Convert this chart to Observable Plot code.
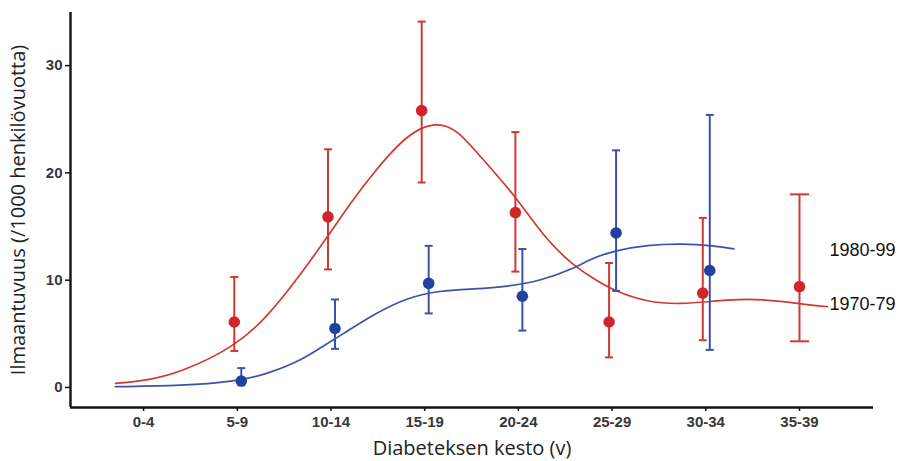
<!DOCTYPE html>
<html>
<head>
<meta charset="utf-8">
<script src="https://cdn.jsdelivr.net/npm/d3@7"></script>
<script src="https://cdn.jsdelivr.net/npm/@observablehq/plot@0.6"></script>
<style>
  html, body { margin: 0; padding: 0; background: #fff; }
  #chart svg { display: block; overflow: visible; }
</style>
</head>
<body>
<div id="chart"></div>
<script>
// Categories (duration of diabetes, years) and their midpoints on the x scale
const categories = ["0-4", "5-9", "10-14", "15-19", "20-24", "25-29", "30-34", "35-39"];
const midpoints = [2, 7, 12, 17, 22, 27, 32, 37];

// 1970-79 cohort (red)
const redCat = ["5-9", "10-14", "15-19", "20-24", "25-29", "30-34", "35-39"];
const redRate = [6.1, 15.9, 25.8, 16.3, 6.1, 8.8, 9.4];
const redLow = [3.4, 11.0, 19.1, 10.8, 2.8, 4.4, 4.3];
const redHigh = [10.3, 22.2, 34.1, 23.8, 11.6, 15.8, 18.0];

// 1980-99 cohort (blue)
const blueCat = ["5-9", "10-14", "15-19", "20-24", "25-29", "30-34"];
const blueRate = [0.6, 5.5, 9.7, 8.5, 14.4, 10.9];
const blueLow = [0.2, 3.6, 6.9, 5.3, 9.0, 3.5];
const blueHigh = [1.8, 8.2, 13.2, 12.9, 22.1, 25.4];

// Smoothed curves
const redCurveX = [0.5, 2.4, 4.1, 6.8, 8.6, 10.4, 11.8, 13.0, 14.3, 16.1, 17.6, 18.7, 20.0, 21.8, 23.5, 25.0, 25.9, 27.1, 28.9, 30.7, 32.4, 34.2, 36.0, 37.8, 38.5];
const redCurveY = [0.37, 0.7, 1.5, 3.73, 6.53, 10.58, 14.0, 17.1, 20.1, 23.7, 24.75, 24.1, 21.46, 17.95, 13.68, 11.3, 10.26, 9.0, 7.93, 7.75, 8.05, 8.3, 8.05, 7.62, 7.53];
const blueCurveX = [0.5, 4.1, 6.8, 8.6, 10.4, 11.8, 12.5, 14.3, 16.1, 17.8, 19.6, 21.4, 23.2, 24.9, 25.85, 27.1, 28.9, 30.7, 32.4, 33.5];
const blueCurveY = [0.07, 0.16, 0.53, 1.25, 2.49, 4.1, 4.82, 6.85, 8.4, 9.02, 9.18, 9.39, 9.95, 11.04, 11.98, 12.75, 13.28, 13.4, 13.22, 12.91];

// Series labels
const seriesNames = ["1980-99", "1970-79"];
const seriesLabelX = [38.6, 38.6];
const seriesLabelY = [12.75, 7.75];

const yTicks = [0, 10, 20, 30];
const xLabel = "Diabeteksen kesto (v)";
const yLabel = "Ilmaantuvuus (/1000 henkilövuotta)";

const RED = "#d0262b";
const RED_LINE = "#cf3a2f";
const BLUE = "#22409e";
const BLUE_LINE = "#3b52a8";

const xDomain = [-1.9, 40.95];
const yDomain = [-1.87, 34.95];

const mid = c => midpoints[categories.indexOf(c)];
const redData = redCat.map((c, i) => ({x: mid(c), rate: redRate[i], lo: redLow[i], hi: redHigh[i], single: !blueCat.includes(c)}));
const blueData = blueCat.map((c, i) => ({x: mid(c), rate: blueRate[i], lo: blueLow[i], hi: blueHigh[i]}));
const redCurve = redCurveX.map((x, i) => ({x, y: redCurveY[i]}));
const blueCurve = blueCurveX.map((x, i) => ({x, y: blueCurveY[i]}));
const labels = seriesNames.map((name, i) => ({name, x: seriesLabelX[i], y: seriesLabelY[i]}));

const redPaired = redData.filter(d => !d.single);
const redSingle = redData.filter(d => d.single);

const capSymbol = {
  draw(context, size) {
    const w = Math.sqrt(size / Math.PI);
    context.moveTo(-w, 0);
    context.lineTo(w, 0);
  }
};

function errorMarks(data, color, dx, capR) {
  return [
    Plot.ruleX(data, {x: "x", y1: "lo", y2: "hi", stroke: color, strokeWidth: 2, dx}),
    Plot.dot(data, {x: "x", y: "hi", symbol: capSymbol, r: capR, fill: "none", stroke: color, strokeWidth: 2, dx}),
    Plot.dot(data, {x: "x", y: "lo", symbol: capSymbol, r: capR, fill: "none", stroke: color, strokeWidth: 2, dx})
  ];
}

const tickFont = "'Liberation Sans', Arial, sans-serif";
const titleFont = "'Open Sans', 'Noto Sans', sans-serif";

const chart = Plot.plot({
  width: 900,
  height: 461,
  marginLeft: 70,
  marginRight: 27,
  marginTop: 12,
  marginBottom: 54,
  style: {fontFamily: tickFont, background: "#fff", overflow: "visible"},
  x: {domain: xDomain},
  y: {domain: yDomain},
  marks: [
    // curves
    Plot.line(redCurve, {x: "x", y: "y", stroke: RED_LINE, strokeWidth: 1.7, curve: "basis"}),
    Plot.line(blueCurve, {x: "x", y: "y", stroke: BLUE_LINE, strokeWidth: 1.7, curve: "basis"}),
    // error bars
    ...errorMarks(redPaired, RED_LINE, -3, 4),
    ...errorMarks(redSingle, RED_LINE, 0, 9.5),
    ...errorMarks(blueData, BLUE_LINE, 4, 4),
    // points
    Plot.dot(redPaired, {x: "x", y: "rate", r: 5.8, fill: RED, dx: -3}),
    Plot.dot(redSingle, {x: "x", y: "rate", r: 5.8, fill: RED}),
    Plot.dot(blueData, {x: "x", y: "rate", r: 5.8, fill: BLUE, dx: 4}),
    // series labels
    Plot.text(labels, {x: "x", y: "y", text: "name", textAnchor: "start", fontSize: 18, fill: "#111", fontFamily: tickFont}),
    // axes
    Plot.axisY({ticks: yTicks, tickSize: 5, tickPadding: 3, fontSize: 15, fontWeight: "bold", label: null, stroke: "#111", strokeWidth: 1.5, color: "#383838"}),
    Plot.axisX({ticks: midpoints, tickFormat: d => categories[midpoints.indexOf(d)], tickSize: 4, tickPadding: 5, fontSize: 15, fontWeight: "bold", label: null, stroke: "#111", strokeWidth: 1.5, color: "#383838"}),
    Plot.ruleX([xDomain[0]], {stroke: "#111", strokeWidth: 2.4}),
    Plot.ruleY([yDomain[0]], {stroke: "#111", strokeWidth: 2.4}),
    // axis titles
    Plot.text([xLabel], {frameAnchor: "bottom", textAnchor: "middle", dy: 47, fontSize: 20, fill: "#222", fontFamily: titleFont, text: d => d}),
    Plot.text([yLabel], {frameAnchor: "left", textAnchor: "middle", dx: -52, rotate: -90, fontSize: 20, fill: "#222", fontFamily: titleFont, text: d => d})
  ]
});

document.getElementById("chart").appendChild(chart);
</script>
</body>
</html>
